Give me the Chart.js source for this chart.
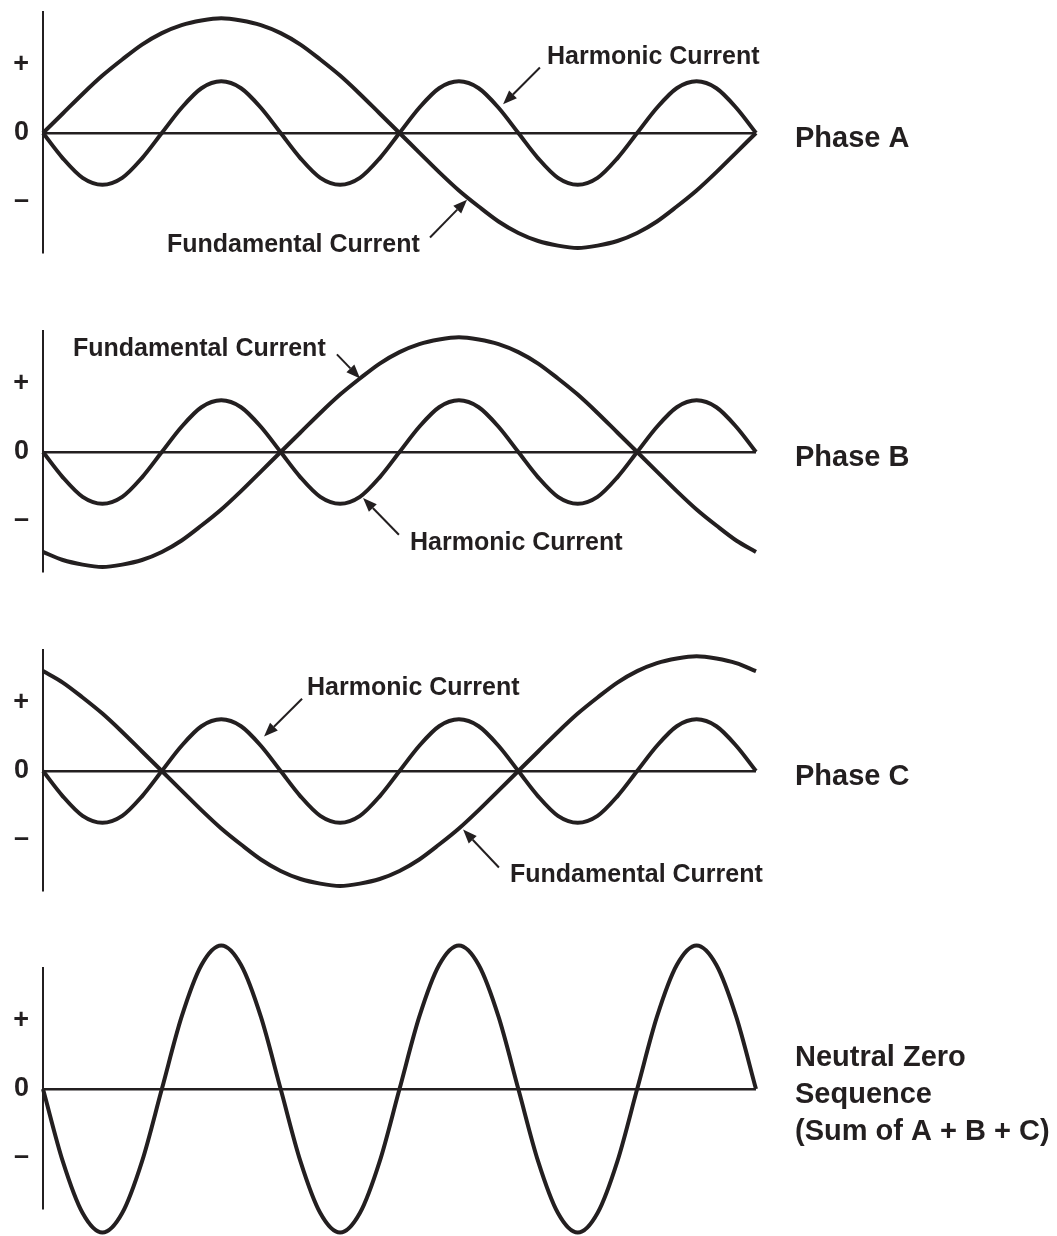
<!DOCTYPE html>
<html>
<head>
<meta charset="utf-8">
<title>Triplen harmonics in the neutral</title>
<script src="https://cdn.jsdelivr.net/npm/chart.js@4.4.1/dist/chart.umd.min.js"></script>
<style>
  html, body { margin: 0; padding: 0; background: #fff; }
  body { width: 1057px; height: 1236px; position: relative; overflow: hidden; }
  canvas { position: absolute; left: 0; }
</style>
</head>
<body>
<canvas id="phaseA" width="1057" height="300" style="top:-18px"></canvas>
<canvas id="phaseB" width="1057" height="300" style="top:301px"></canvas>
<canvas id="phaseC" width="1057" height="300" style="top:620px"></canvas>
<canvas id="neutral" width="1057" height="300" style="top:938px"></canvas>
<script>
// electrical angle over one fundamental cycle
const degrees = [0, 10, 20, 30, 40, 50, 60, 70, 80, 90, 100, 110, 120, 130, 140, 150, 160, 170, 180,
  190, 200, 210, 220, 230, 240, 250, 260, 270, 280, 290, 300, 310, 320, 330, 340, 350, 360];

// currents, fundamental peak = 1
const fundamentalA = [0, 0.17, 0.34, 0.5, 0.64, 0.77, 0.87, 0.94, 0.98, 1, 0.98, 0.94, 0.87, 0.77, 0.64, 0.5, 0.34, 0.17, 0,
  -0.17, -0.34, -0.5, -0.64, -0.77, -0.87, -0.94, -0.98, -1, -0.98, -0.94, -0.87, -0.77, -0.64, -0.5, -0.34, -0.17, 0];
const fundamentalB = [-0.87, -0.94, -0.98, -1, -0.98, -0.94, -0.87, -0.77, -0.64, -0.5, -0.34, -0.17, 0, 0.17, 0.34, 0.5, 0.64, 0.77, 0.87,
  0.94, 0.98, 1, 0.98, 0.94, 0.87, 0.77, 0.64, 0.5, 0.34, 0.17, 0, -0.17, -0.34, -0.5, -0.64, -0.77, -0.87];
const fundamentalC = [0.87, 0.77, 0.64, 0.5, 0.34, 0.17, 0, -0.17, -0.34, -0.5, -0.64, -0.77, -0.87, -0.94, -0.98, -1, -0.98, -0.94, -0.87,
  -0.77, -0.64, -0.5, -0.34, -0.17, 0, 0.17, 0.34, 0.5, 0.64, 0.77, 0.87, 0.94, 0.98, 1, 0.98, 0.94, 0.87];
// 3rd harmonic is in phase on all three lines
const harmonic = [0, -0.22, -0.39, -0.45, -0.39, -0.22, 0, 0.22, 0.39, 0.45, 0.39, 0.22, 0, -0.22, -0.39, -0.45, -0.39, -0.22, 0,
  0.22, 0.39, 0.45, 0.39, 0.22, 0, -0.22, -0.39, -0.45, -0.39, -0.22, 0, 0.22, 0.39, 0.45, 0.39, 0.22, 0];
const neutral = [0, -0.63, -1.08, -1.25, -1.08, -0.63, 0, 0.63, 1.08, 1.25, 1.08, 0.63, 0, -0.63, -1.08, -1.25, -1.08, -0.63, 0,
  0.63, 1.08, 1.25, 1.08, 0.63, 0, -0.63, -1.08, -1.25, -1.08, -0.63, 0, 0.63, 1.08, 1.25, 1.08, 0.63, 0];

const tickValues = [0.6, 0, -0.59];
const tickLabels = ["+", "0", "–"];

const ink = "#231f20";
const family = '"Liberation Sans", Arial, Helvetica, sans-serif';

const drawArrow = (ctx, x0, y0, x1, y1) => {
  const a = Math.atan2(y1 - y0, x1 - x0);
  const len = 14, half = 5.5;
  const bx = x1 - len * Math.cos(a);
  const by = y1 - len * Math.sin(a);
  ctx.lineWidth = 2;
  ctx.beginPath();
  ctx.moveTo(x0, y0);
  ctx.lineTo(bx, by);
  ctx.stroke();
  ctx.beginPath();
  ctx.moveTo(x1, y1);
  ctx.lineTo(bx + half * Math.sin(a), by - half * Math.cos(a));
  ctx.lineTo(bx - half * Math.sin(a), by + half * Math.cos(a));
  ctx.closePath();
  ctx.fill();
};

// callout labels with arrows, plus the panel name on the right
const waveNotes = {
  id: "waveNotes",
  afterDraw(chart, args, opts) {
    const { ctx, chartArea } = chart;
    const x = chart.scales.x, y = chart.scales.y;
    ctx.save();
    ctx.fillStyle = ink;
    ctx.strokeStyle = ink;
    ctx.textBaseline = "alphabetic";
    ctx.textAlign = "left";
    ctx.font = "bold 25px " + family;
    (opts.notes || []).forEach((n) => {
      ctx.fillText(n.text, x.getPixelForValue(n.at[0]), y.getPixelForValue(n.at[1]));
      drawArrow(ctx,
        x.getPixelForValue(n.from[0]), y.getPixelForValue(n.from[1]),
        x.getPixelForValue(n.to[0]), y.getPixelForValue(n.to[1]));
    });
    ctx.font = "bold 29px " + family;
    const zero = y.getPixelForValue(0);
    const lines = opts.title || [];
    lines.forEach((line, i) => {
      ctx.fillText(line, chartArea.right + 39, zero + 14 + (i - (lines.length - 1) / 2) * 37);
    });
    ctx.restore();
  },
};

const makePanel = (id, series, notes, title) => {
  return new Chart(document.getElementById(id), {
    type: "line",
    data: {
      datasets: series.map((values) => ({
        data: values.map((v, i) => ({ x: degrees[i], y: v })),
        borderColor: ink,
        borderWidth: 4,
        pointRadius: 0,
        fill: false,
        cubicInterpolationMode: "monotone",
        clip: false,
      })),
    },
    options: {
      responsive: false,
      animation: false,
      events: [],
      layout: { padding: { left: 0, right: 301, top: 28, bottom: 30 } },
      plugins: {
        legend: { display: false },
        tooltip: { enabled: false },
        waveNotes: { notes: notes, title: title },
      },
      scales: {
        x: { type: "linear", min: 0, max: 360, display: false },
        y: {
          min: -1.034,
          max: 1.052,
          afterBuildTicks: (scale) => {
            scale.ticks = tickValues.map((v) => ({ value: v }));
          },
          afterFit: (scale) => {
            scale.width = 43;
          },
          ticks: {
            padding: 14,
            color: ink,
            font: { family: family, size: 27, weight: "bold" },
            callback: (value, index) => tickLabels[index],
          },
          grid: {
            drawTicks: false,
            lineWidth: 2.5,
            color: (c) => (c.tick && c.tick.value === 0 ? ink : "rgba(0,0,0,0)"),
          },
          border: { display: true, color: ink, width: 2 },
        },
      },
    },
    plugins: [waveNotes],
  });
};

makePanel("phaseA", [fundamentalA, harmonic], [
  { text: "Harmonic Current", at: [254.5, 0.6], from: [250.9, 0.57], to: [232.3, 0.25] },
  { text: "Fundamental Current", at: [62.6, -1.04], from: [195.4, -0.91], to: [214.1, -0.58] },
], ["Phase A"]);

makePanel("phaseB", [fundamentalB, harmonic], [
  { text: "Fundamental Current", at: [15.1, 0.84], from: [148.4, 0.85], to: [160.1, 0.64] },
  { text: "Harmonic Current", at: [185.3, -0.85], from: [179.7, -0.72], to: [161.6, -0.4] },
], ["Phase B"]);

makePanel("phaseC", [fundamentalC, harmonic], [
  { text: "Harmonic Current", at: [133.3, 0.66], from: [130.8, 0.63], to: [111.6, 0.3] },
  { text: "Fundamental Current", at: [235.8, -0.97], from: [230.2, -0.84], to: [212.1, -0.51] },
], ["Phase C"]);

makePanel("neutral", [neutral], [], ["Neutral Zero", "Sequence", "(Sum of A + B + C)"]);
</script>
</body>
</html>
